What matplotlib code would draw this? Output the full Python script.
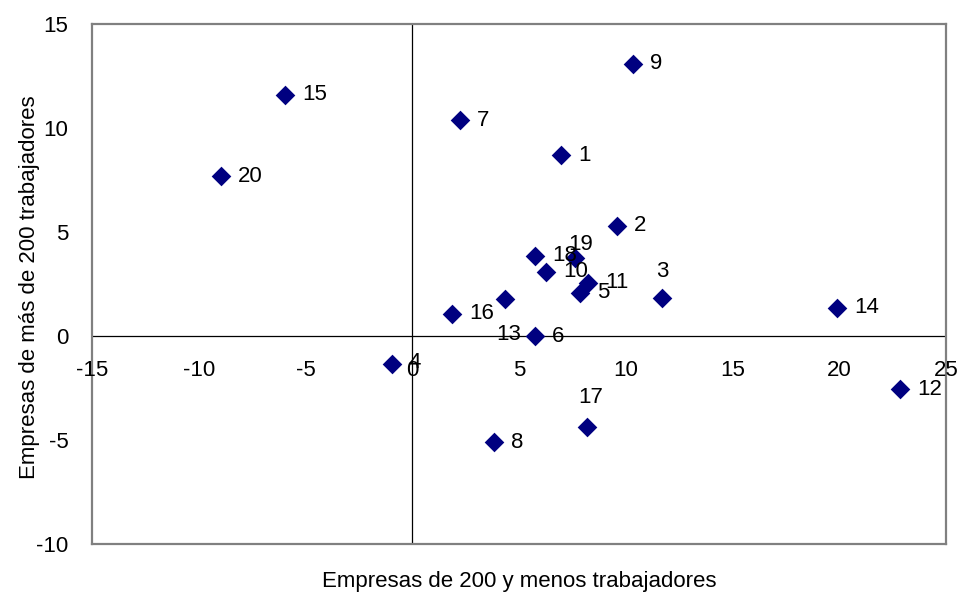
import matplotlib
matplotlib.use("Agg")
import matplotlib.pyplot as plt
from matplotlib.transforms import offset_copy

plt.rcParams['font.family'] = ['Liberation Sans', 'DejaVu Sans']

labels = ["1", "2", "3", "4", "5", "6", "7", "8", "9", "10",
          "11", "12", "13", "14", "15", "16", "17", "18", "19", "20"]
x_vals = [6.98, 9.60, 11.71, -0.94, 7.87, 5.76, 2.25, 3.84, 10.35, 6.28,
          8.24, 22.86, 4.36, 19.91, -5.95, 1.87, 8.20, 5.76, 7.63, -8.95]
y_vals = [8.70, 5.29, 1.83, -1.35, 2.07, 0.00, 10.38, -5.10, 13.08, 3.08,
          2.55, -2.55, 1.78, 1.35, 11.59, 1.06, -4.38, 3.85, 3.75, 7.69]

x_ticks = [-15, -10, -5, 0, 5, 10, 15, 20, 25]
y_ticks = [-10, -5, 0, 5, 10, 15]

FS = 16

fig = plt.figure(figsize=(9.61, 5.98), dpi=100)
ax = fig.add_axes([92/961, 1-544/598, (946-92)/961, (544-24)/598])
ax.set_xlim(-15, 25)
ax.set_ylim(-10, 15)

for s in ax.spines.values():
    s.set_color('#808080')
    s.set_linewidth(1.6)

ax.axhline(0, color='black', lw=0.9, zorder=1)
ax.axvline(0, color='black', lw=0.9, zorder=1)

ax.scatter(x_vals, y_vals, marker='D', s=100, color='#000080', zorder=3, linewidths=0)

# label offsets in pixels (dx, dy); default to the right
special = {"3": (0, 26), "17": (3, 30), "19": (5, 13), "13": (3, -36), "4": (16, 2)}
for lab, xv, yv in zip(labels, x_vals, y_vals):
    dx, dy = special.get(lab, (17, 0))
    ha = 'left'
    if lab in ("3", "17", "19", "13"):
        ha = 'center'
    tr = offset_copy(ax.transData, fig=fig, x=dx, y=dy, units='dots')
    ax.text(xv, yv, lab, transform=tr, fontsize=FS, ha=ha, va='center', zorder=4)

ax.set_xticks([])
ax.set_yticks(y_ticks)
ax.set_yticklabels([str(v) for v in y_ticks], fontsize=FS)
ax.tick_params(axis='y', length=0, pad=17)

xtr = offset_copy(ax.transData, fig=fig, x=0, y=-35, units='dots')
for xv in x_ticks:
    ax.text(xv, 0, str(xv), transform=xtr, fontsize=FS, ha='center', va='center')

fig.text(519/961, 1-582/598, "Empresas de 200 y menos trabajadores", fontsize=FS,
         ha='center', va='center')
fig.text(30/961, 1-287/598, "Empresas de más de 200 trabajadores", fontsize=FS,
         ha='center', va='center', rotation=90)

fig.savefig("out.png", dpi=100)
